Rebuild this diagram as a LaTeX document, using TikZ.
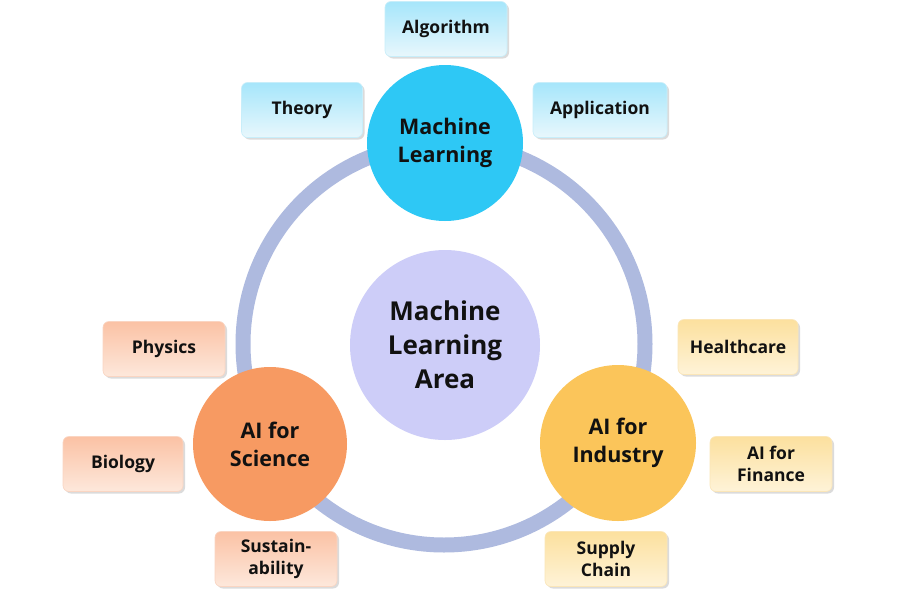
\documentclass[tikz,border=0pt]{standalone}
\usepackage{fontspec}
\setmainfont{Open Sans}
\usetikzlibrary{shadows}
\definecolor{ringc}{HTML}{AEBADF}
\definecolor{mlc}{HTML}{2EC8F5}
\definecolor{centc}{HTML}{CDCDF8}
\definecolor{scic}{HTML}{F79A62}
\definecolor{indc}{HTML}{FBC55A}
\definecolor{txt}{HTML}{111111}
\definecolor{bluetop}{HTML}{A6E6FB}
\definecolor{bluebot}{HTML}{E8F7FC}
\definecolor{bluedraw}{HTML}{C8EEFA}
\definecolor{ortop}{HTML}{FBC2A5}
\definecolor{orbot}{HTML}{FDE8DC}
\definecolor{ordraw}{HTML}{FAD5C2}
\definecolor{yetop}{HTML}{FCE09E}
\definecolor{yebot}{HTML}{FEF3D8}
\definecolor{yedraw}{HTML}{FBE6B8}
\tikzset{
  hub/.style={circle, inner sep=0pt, align=center, text=txt,
    font=\bfseries\fontsize{21.5}{28}\selectfont},
  leaf/.style={rounded corners=6pt, minimum height=55pt, inner sep=2pt,
    align=center, text=txt, line width=0.6pt,
    font=\bfseries\fontsize{17.5}{22}\selectfont,
    drop shadow={opacity=0.28, shadow xshift=2pt, shadow yshift=-2pt}},
  blueleaf/.style={leaf, top color=bluetop, bottom color=bluebot, draw=bluedraw},
  orleaf/.style={leaf, top color=ortop, bottom color=orbot, draw=ordraw},
  yeleaf/.style={leaf, top color=yetop, bottom color=yebot, draw=yedraw}
}
\begin{document}
\begin{tikzpicture}[x=1pt,y=-1pt]
\useasboundingbox (0,0) rectangle (900,600);
\fill[white] (0,0) rectangle (900,600);
% ring
\coordinate (rc) at (444,344);
\draw[ringc, line width=15pt] (rc) circle[radius=201pt];
% hubs
\node[hub, fill=centc, minimum size=190pt, font=\bfseries\fontsize{26}{34}\selectfont] (area) at (445,345) {Machine\\Learning\\Area};
\node[hub, fill=mlc, minimum size=156pt] (ml) at (445,143) {Machine\\Learning};
\node[hub, fill=scic, minimum size=154pt] (sci) at (270,444) {AI for\\Science};
\node[hub, fill=indc, minimum size=156pt] (ind) at (618,443) {AI for\\Industry};
% leaves
\node[blueleaf, minimum width=122pt] (alg) at (446,29) {Algorithm};
\node[blueleaf, minimum width=121pt] (theo) at (302,110) {Theory};
\node[blueleaf, minimum width=134pt] (app) at (600,110) {Application};
\node[orleaf, minimum width=122pt] (phy) at (164,349) {Physics};
\node[orleaf, minimum width=120pt] (bio) at (123,464) {Biology};
\node[orleaf, minimum width=122pt] (sus) at (276,559) {Sustain-\\ability};
\node[yeleaf, minimum width=120pt] (hc) at (738,347) {Healthcare};
\node[yeleaf, minimum width=122pt] (fin) at (771,464) {AI for\\Finance};
\node[yeleaf, minimum width=122pt] (sup) at (606,559) {Supply\\Chain};
\end{tikzpicture}
\end{document}
